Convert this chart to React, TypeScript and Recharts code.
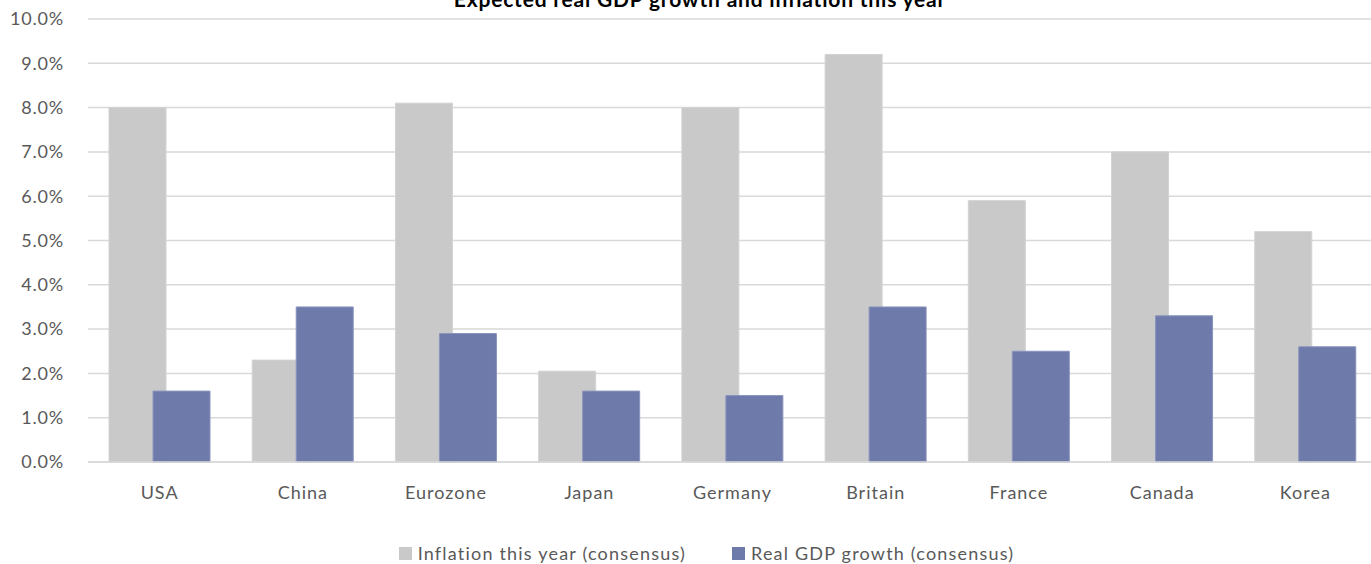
import React from "react";
import {
  BarChart,
  Bar,
  XAxis,
  YAxis,
  CartesianGrid,
  Legend,
} from "recharts";

const countries = [
  "USA",
  "China",
  "Eurozone",
  "Japan",
  "Germany",
  "Britain",
  "France",
  "Canada",
  "Korea",
];
const inflation = [8.0, 2.3, 8.1, 2.05, 8.0, 9.2, 5.9, 7.0, 5.2];
const gdpGrowth = [1.6, 3.5, 2.9, 1.6, 1.5, 3.5, 2.5, 3.3, 2.6];
const yTicks = [0, 1, 2, 3, 4, 5, 6, 7, 8, 9, 10];

const data = countries.map((name, i) => ({
  name,
  inflation: inflation[i],
  gdp: gdpGrowth[i],
}));

const FONT = "Lato, 'Open Sans', sans-serif";
const GREY = "#c9c9c9";
const BLUE = "#6e7aaa";

function LegendContent() {
  const items = [
    { label: "Inflation this year (consensus)", color: GREY },
    { label: "Real GDP growth (consensus)", color: BLUE },
  ];
  return (
    <div
      style={{
        display: "flex",
        justifyContent: "center",
        gap: 46,
        height: 24,
        paddingLeft: 36,
      }}
    >
      {items.map((it) => (
        <div key={it.label} style={{ display: "flex", alignItems: "center" }}>
          <span
            style={{
              width: 13,
              height: 13,
              background: it.color,
              display: "inline-block",
              marginRight: 6,
            }}
          />
          <span
            style={{
              fontFamily: FONT,
              fontSize: 18,
              color: "#595959",
              letterSpacing: 1.2,
            }}
          >
            {it.label}
          </span>
        </div>
      ))}
    </div>
  );
}

export default function App() {
  return (
    <div
      style={{
        position: "fixed",
        left: 0,
        top: 0,
        width: 1371,
        height: 564,
        overflow: "hidden",
        background: "#fff",
      }}
    >
      <div
        style={{
          position: "absolute",
          left: 0,
          width: 1400,
          top: -14,
          textAlign: "center",
          fontFamily: FONT,
          fontWeight: 700,
          fontSize: 21,
          letterSpacing: 0.8,
          color: "#000",
          zIndex: 2,
        }}
      >
        Expected real GDP growth and inflation this year
      </div>
      <BarChart
        width={1380}
        height={564}
        data={data}
        margin={{ top: 19, right: 3, left: 0, bottom: 26 }}
        barGap={-13}
        barSize={57}
      >
        <CartesianGrid vertical={false} stroke="#d9d9d9" strokeWidth={1.5} />
        <XAxis
          dataKey="name"
          height={52}
          axisLine={{ stroke: "#d9d9d9", strokeWidth: 1.5 }}
          tickLine={false}
          tick={{ fill: "#595959", fontSize: 18, fontFamily: FONT, letterSpacing: 1 }}
          tickMargin={18}
        />
        <YAxis
          width={88}
          domain={[0, 10]}
          ticks={yTicks}
          interval={0}
          axisLine={false}
          tickLine={false}
          tickFormatter={(v: number) => `${v.toFixed(1)}%`}
          tick={{ fill: "#595959", fontSize: 18, fontFamily: FONT, letterSpacing: 0.8 }}
          tickMargin={18}
        />
        <Legend
          verticalAlign="bottom"
          content={() => <LegendContent />}
          wrapperStyle={{ top: 541, bottom: "auto" }}
        />
        <Bar
          dataKey="inflation"
          name="Inflation this year (consensus)"
          fill={GREY}
          stroke="#d2d2d2"
          strokeWidth={1}
          isAnimationActive={false}
        />
        <Bar
          dataKey="gdp"
          name="Real GDP growth (consensus)"
          fill={BLUE}
          stroke="#8a94bd"
          strokeWidth={1}
          isAnimationActive={false}
        />
      </BarChart>
    </div>
  );
}
